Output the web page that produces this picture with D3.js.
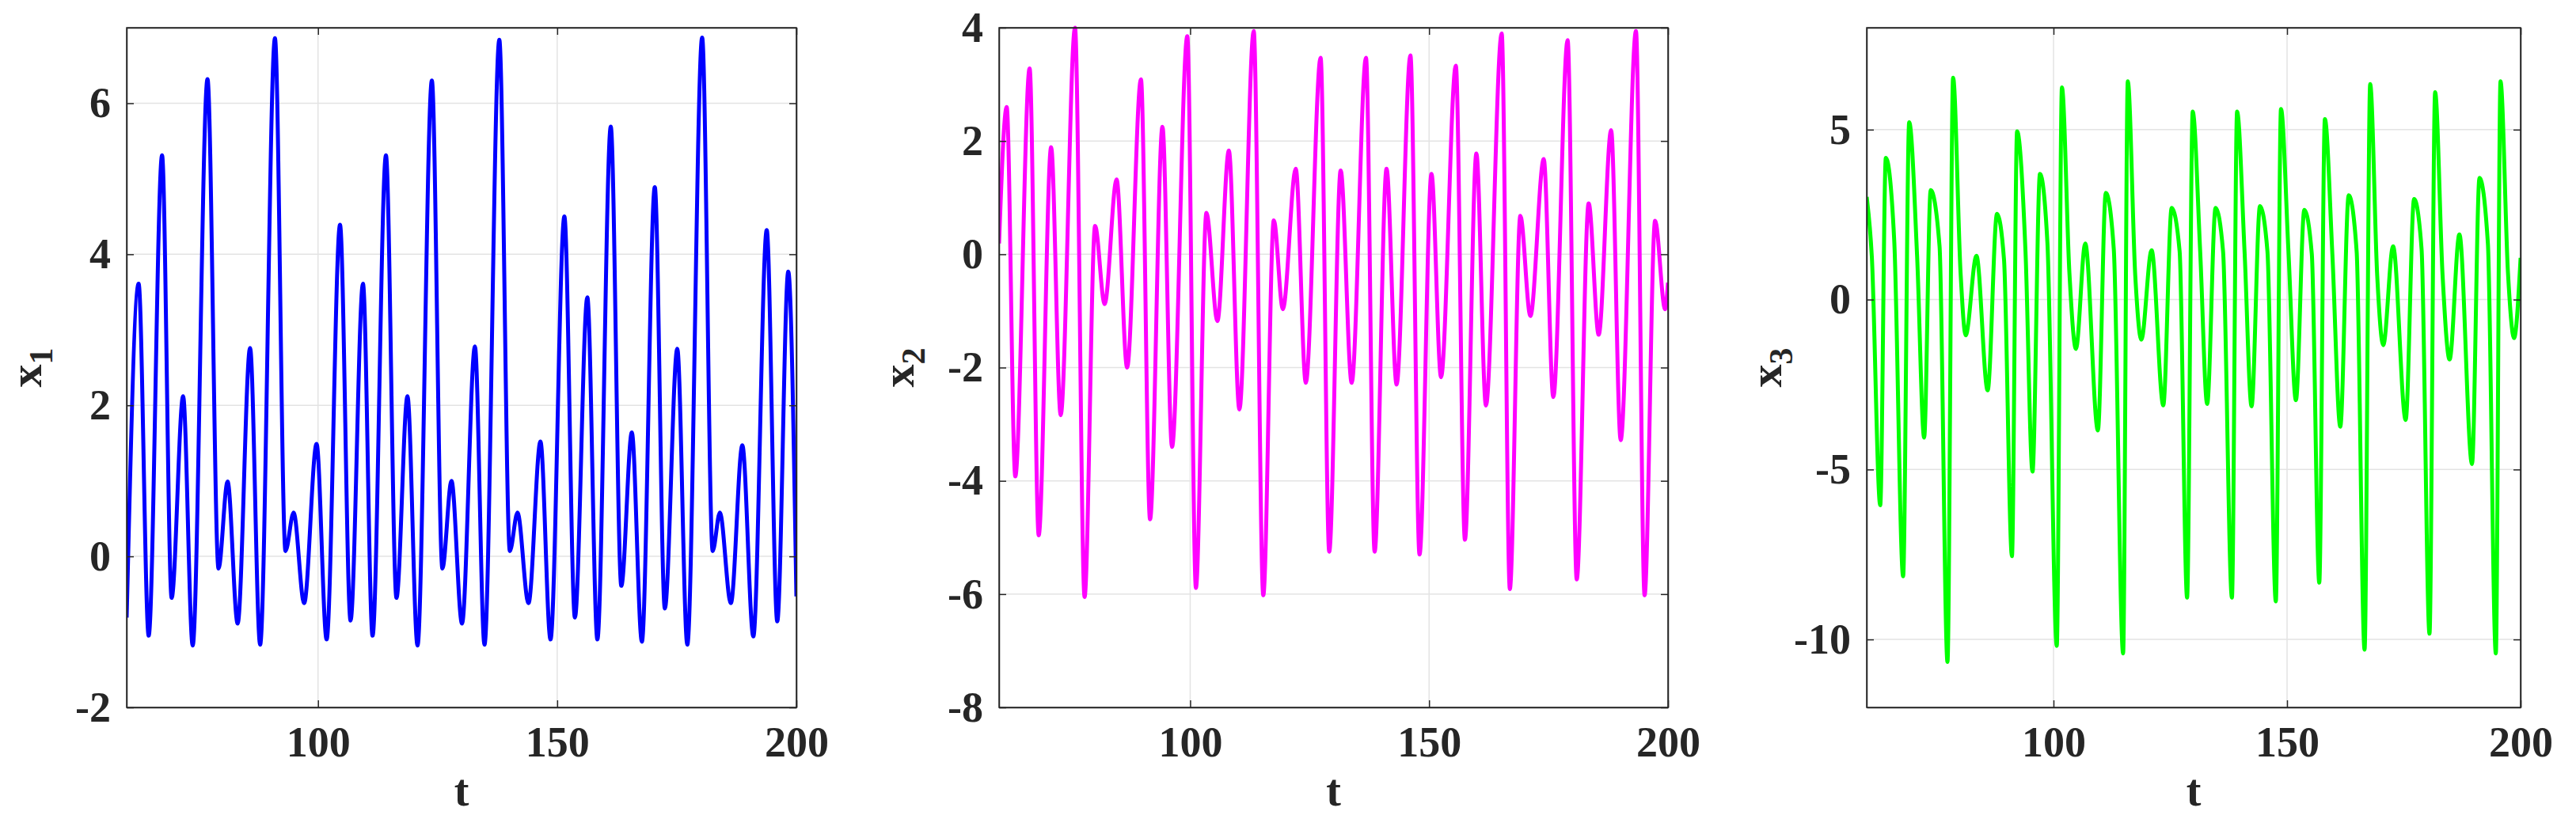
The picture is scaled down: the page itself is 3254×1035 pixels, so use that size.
<!DOCTYPE html>
<html>
<head>
<meta charset="utf-8">
<script src="https://cdn.jsdelivr.net/npm/d3@7"></script>
<style>
  body { margin: 0; background: #fff; }
  text { font-family: "Liberation Serif", "Times New Roman", serif; font-weight: bold; fill: #262626; }
</style>
</head>
<body>
<div id="chart"></div>
<script>
// extrema: [t, value]
const x1Data = [[60,-0.81],[62.5,3.61],[64.6,-1.05],[67.4,5.31],[69.4,-0.55],[71.8,2.12],[73.8,-1.18],[76.9,6.32],[79.2,-0.16],[81.1,0.99],[83.2,-0.89],[85.8,2.76],[87.9,-1.17],[91.0,6.86],[93.2,0.07],[94.9,0.58],[97.1,-0.62],[99.7,1.49],[101.8,-1.1],[104.6,4.39],[106.8,-0.85],[109.4,3.61],[111.4,-1.05],[114.2,5.31],[116.4,-0.55],[118.7,2.12],[120.8,-1.18],[123.8,6.3],[126,-0.16],[127.9,1.0],[130.1,-0.89],[132.8,2.78],[134.8,-1.17],[137.9,6.84],[140.1,0.07],[141.7,0.58],[144,-0.62],[146.5,1.52],[148.6,-1.1],[151.5,4.5],[153.7,-0.81],[156.3,3.43],[158.4,-1.1],[161.2,5.69],[163.4,-0.39],[165.6,1.64],[167.7,-1.13],[170.4,4.89],[172.5,-0.69],[175.1,2.75],[177.2,-1.17],[180.3,6.87],[182.5,0.07],[184,0.58],[186.3,-0.62],[188.7,1.47],[191.0,-1.06],[193.8,4.32],[196,-0.86],[198.3,3.77],[200,-0.53]];

const x2Data = [[60,0.19],[61.6,2.6],[63.4,-3.92],[66.4,3.28],[68.3,-4.96],[70.9,1.89],[72.9,-2.84],[75.9,4.0],[77.9,-6.05],[80.1,0.5],[82.1,-0.88],[84.6,1.32],[86.8,-2.0],[89.7,3.09],[91.6,-4.68],[94.2,2.25],[96.2,-3.4],[99.4,3.85],[101.2,-5.89],[103.4,0.73],[105.7,-1.18],[108.1,1.83],[110.3,-2.74],[113.3,3.94],[115.3,-6.02],[117.5,0.6],[119.4,-0.97],[122.1,1.51],[124.2,-2.27],[127.3,3.47],[129.1,-5.25],[131.5,1.48],[133.8,-2.27],[136.8,3.47],[138.6,-5.25],[141.1,1.51],[143.2,-2.3],[146.1,3.51],[148.0,-5.3],[150.5,1.42],[152.5,-2.17],[155.6,3.33],[157.5,-5.04],[159.9,1.78],[161.9,-2.67],[165.2,3.9],[166.9,-5.91],[169.1,0.68],[171.2,-1.09],[174,1.68],[176,-2.52],[179,3.78],[180.9,-5.74],[183.4,0.9],[185.5,-1.42],[188.1,2.19],[190.1,-3.28],[193.3,3.94],[195.1,-6.02],[197.3,0.59],[199.4,-0.97],[200,-0.5]];

const x3Data = [[60,3.02],[61.1,1.26],[62.9,-6.05],[64.1,4.17],[65.9,1.73],[67.8,-8.14],[69.1,5.22],[70.8,1.26],[72.3,-4.06],[73.7,3.22],[75.6,1.57],[77.3,-10.66],[78.5,6.53],[80.1,0.79],[81.2,-1.05],[83.5,1.29],[85.9,-2.67],[87.9,2.52],[89.4,1.18],[91.1,-7.55],[92.2,4.95],[94,1.42],[95.5,-5.06],[97.1,3.7],[98.7,1.65],[100.7,-10.19],[101.8,6.24],[103.4,0.79],[104.8,-1.45],[106.8,1.65],[109.5,-3.85],[111.2,3.14],[112.9,1.49],[114.9,-10.41],[115.9,6.42],[117.5,0.71],[118.8,-1.18],[121.0,1.45],[123.5,-3.11],[125.3,2.7],[127.0,1.42],[128.6,-8.77],[129.8,5.53],[131.4,1.42],[132.9,-3.07],[134.7,2.7],[136.3,1.42],[138.2,-8.77],[139.3,5.53],[140.9,1.42],[142.4,-3.14],[144.2,2.75],[145.8,1.42],[147.6,-8.88],[148.7,5.61],[150.3,1.42],[151.9,-2.96],[153.7,2.64],[155.3,1.34],[156.9,-8.33],[158.1,5.31],[159.7,1.34],[161.4,-3.74],[163.2,3.07],[164.9,1.42],[166.6,-10.3],[167.8,6.34],[169.3,0.71],[170.6,-1.34],[172.7,1.57],[175.4,-3.54],[177.2,2.96],[178.8,1.49],[180.5,-9.83],[181.7,6.1],[183.3,0.71],[184.8,-1.76],[186.9,1.92],[189.6,-4.84],[191.2,3.58],[193.0,1.65],[194.7,-10.41],[195.7,6.42],[197.3,0.79],[198.6,-1.13],[200,1.23]];

const xTicks = [100, 150, 200];
const yTicks1 = [-2, 0, 2, 4, 6];
const yTicks2 = [-8, -6, -4, -2, 0, 2, 4];
const yTicks3 = [-10, -5, 0, 5];

const panels = [
  { data: x1Data, yDomain: [-2, 7], yTicks: yTicks1, label: "1", color: "#0000ff", left: 160, right: 1006 },
  { data: x2Data, yDomain: [-8, 4], yTicks: yTicks2, label: "2", color: "#ff00ff", left: 1262, right: 2107 },
  { data: x3Data, yDomain: [-12, 8], yTicks: yTicks3, label: "3", color: "#00ff00", left: 2358, right: 3184 }
];

const W = 3254, H = 1035, plotTop = 35, plotBottom = 894;
const fmt = d => String(d); // plain hyphen minus, as in the reference

const svg = d3.select("#chart").append("svg")
  .attr("width", W).attr("height", H);

panels.forEach(p => {
  const x = d3.scaleLinear().domain([60, 200]).range([p.left, p.right]);
  const y = d3.scaleLinear().domain(p.yDomain).range([plotBottom, plotTop]);
  const g = svg.append("g");

  // grid
  g.selectAll(".gx").data(xTicks).enter().append("line")
    .attr("x1", d => x(d)).attr("x2", d => x(d)).attr("y1", plotTop).attr("y2", plotBottom)
    .attr("stroke", "#e3e3e3").attr("stroke-width", 1.5);
  g.selectAll(".gy").data(p.yTicks).enter().append("line")
    .attr("x1", p.left).attr("x2", p.right).attr("y1", d => y(d)).attr("y2", d => y(d))
    .attr("stroke", "#e3e3e3").attr("stroke-width", 1.5);

  // line
  const clipId = "clip" + p.label;
  svg.append("clipPath").attr("id", clipId).append("rect")
    .attr("x", p.left).attr("y", plotTop - 3).attr("width", p.right - p.left).attr("height", plotBottom - plotTop + 6);
  g.append("path")
    .datum(p.data)
    .attr("clip-path", `url(#${clipId})`)
    .attr("fill", "none").attr("stroke", p.color).attr("stroke-width", 5)
    .attr("stroke-linejoin", "round")
    .attr("d", d3.line().x(d => x(d[0])).y(d => y(d[1])).curve(d3.curveMonotoneX));

  // axes (inward ticks, box)
  const tl = 9;
  const axB = g.append("g").attr("transform", `translate(0,${plotBottom})`)
    .call(d3.axisBottom(x).tickValues(xTicks).tickFormat(fmt).tickSizeInner(-tl).tickSizeOuter(0).tickPadding(24));
  const axT = g.append("g").attr("transform", `translate(0,${plotTop})`)
    .call(d3.axisTop(x).tickValues(xTicks).tickSizeInner(-tl).tickSizeOuter(0).tickFormat(""));
  const axL = g.append("g").attr("transform", `translate(${p.left},0)`)
    .call(d3.axisLeft(y).tickValues(p.yTicks).tickFormat(fmt).tickSizeInner(-tl).tickSizeOuter(0).tickPadding(20));
  const axR = g.append("g").attr("transform", `translate(${p.right},0)`)
    .call(d3.axisRight(y).tickValues(p.yTicks).tickSizeInner(-tl).tickSizeOuter(0).tickFormat(""));
  [axB, axT, axL, axR].forEach(a => {
    a.selectAll("path, line").attr("stroke", "#262626").attr("stroke-width", 1.5);
    a.selectAll("text").attr("font-size", 54).attr("font-family", "Liberation Serif").attr("font-weight", "bold").attr("fill", "#262626");
  });
  axB.selectAll("text").attr("dy", "0.71em");

  g.append("rect").attr("x", p.left).attr("y", plotTop)
    .attr("width", p.right - p.left).attr("height", plotBottom - plotTop)
    .attr("fill", "none").attr("stroke", "#262626").attr("stroke-width", 1.5);

  // labels
  g.append("text").attr("x", (p.left + p.right) / 2).attr("y", 1018)
    .attr("text-anchor", "middle").attr("font-size", 56).text("t");
  const yl = g.append("text")
    .attr("transform", `translate(${p.left - 108},${(plotTop + plotBottom) / 2}) rotate(-90)`)
    .attr("text-anchor", "middle").attr("font-size", 58);
  yl.append("tspan").text("x");
  yl.append("tspan").attr("dy", 14).attr("font-size", 42).text(p.label);
});
</script>
</body>
</html>
